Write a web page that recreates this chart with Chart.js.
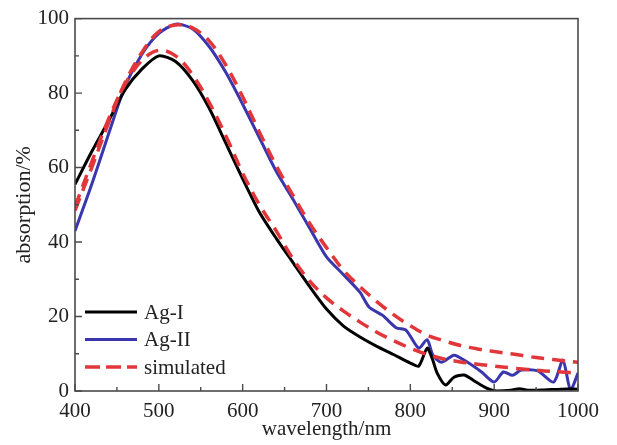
<!DOCTYPE html>
<html>
<head>
<meta charset="utf-8">
<script src="https://cdn.jsdelivr.net/npm/chart.js@4/dist/chart.umd.min.js"></script>
<style>
    html, body { margin: 0; padding: 0; background: #fff; }
    #wrap { width: 617px; height: 445px; }
</style>
</head>
<body>
<div id="wrap"><canvas id="myChart" width="617" height="445"></canvas></div>
<script>
// measured Ag-I
const agIWave = [400, 420, 440, 460, 480, 500, 520, 540, 560, 580, 600, 620, 640, 660, 680, 700, 720, 740, 760, 780, 800, 810, 820, 826, 832, 842, 852, 864, 875, 891, 903, 920, 930, 940, 960, 980, 1000];
const agIAbs = [55.5, 64.3, 72.5, 81, 86.5, 90, 88.5, 83.5, 76, 66.5, 57, 48, 41, 34.5, 28, 22, 17.5, 14.5, 12, 9.8, 7.5, 6.7, 11.5, 8.8, 4.8, 1.6, 3.7, 4.3, 2.9, 0.8, 0, 0.2, 0.6, 0.2, 0.3, 0.5, 0.5];

// measured Ag-II
const agIIWave = [400, 420, 440, 460, 480, 500, 520, 540, 560, 580, 600, 620, 640, 660, 680, 700, 720, 740, 751, 767, 783, 795, 810, 820, 827, 837, 852, 864, 885, 900, 911, 922, 932, 952, 971, 982, 991, 1000];
const agIIAbs = [43, 55.5, 69, 82, 90.5, 96, 98.5, 97.3, 92.5, 85.5, 77, 68, 59, 51.5, 43.7, 36, 31.3, 26.5, 22.5, 20.3, 17, 16.3, 11.5, 13.8, 9.6, 7.7, 9.6, 8.3, 5.1, 2.4, 5.1, 4.2, 5.6, 5.4, 2.4, 8.3, 0.3, 4.8];

// simulated curves
const simWave = [400, 420, 440, 460, 480, 500, 520, 540, 560, 580, 600, 620, 640, 660, 680, 700, 720, 740, 760, 780, 800, 820, 840, 860, 880, 900, 920, 940, 960, 980, 1000];
const simIAbs = [49.5, 61.5, 73, 82.5, 88.8, 91.5, 90, 85, 77.5, 68.5, 58.5, 50, 43, 35.5, 29.5, 25, 21.5, 18.5, 15.8, 13.5, 11.5, 9.8, 8.6, 7.8, 7.2, 6.7, 6.2, 5.8, 5.4, 5.1, 4.8];
const simIIAbs = [48.5, 60, 72, 83, 91, 96.5, 98.3, 97.5, 94, 87.5, 79, 69.5, 60.5, 52.5, 45, 38.5, 32.5, 28, 24, 20.5, 17.5, 15, 13.5, 12.2, 11.3, 10.6, 10, 9.3, 8.7, 8.2, 7.7];

const xTicks = [400, 500, 600, 700, 800, 900, 1000];
const yTicks = [0, 20, 40, 60, 80, 100];

const FONT = "'Liberation Serif', 'Times New Roman', serif";
const BLACK = '#000000';
const BLUE = '#3a36ae';
const RED = '#e2373a';

function toPoints(xs, ys) {
    return xs.map(function (x, i) { return { x: x, y: ys[i] }; });
}

const frameAndTicks = {
    id: 'frameAndTicks',
    afterDatasetsDraw(chart) {
        const ctx = chart.ctx;
        const area = chart.chartArea;
        const xs = chart.scales.x;
        const ys = chart.scales.y;
        ctx.save();
        ctx.strokeStyle = '#4a4a4a';
        ctx.lineWidth = 1.6;
        ctx.strokeRect(area.left, area.top, area.right - area.left, area.bottom - area.top);
        ctx.lineWidth = 1.4;
        ctx.beginPath();
        for (let v = 400; v <= 1000; v += 50) {
            const px = xs.getPixelForValue(v);
            const len = v % 100 === 0 ? 7 : 4;
            ctx.moveTo(px, area.bottom);
            ctx.lineTo(px, area.bottom - len);
        }
        for (let v = 0; v <= 100; v += 10) {
            const py = ys.getPixelForValue(v);
            const len = v % 20 === 0 ? 7 : 4;
            ctx.moveTo(area.left, py);
            ctx.lineTo(area.left + len, py);
        }
        ctx.stroke();
        ctx.restore();
    }
};

const insideLegend = {
    id: 'insideLegend',
    afterDraw(chart) {
        const ctx = chart.ctx;
        const entries = [
            { text: chart.data.datasets[2].label, color: BLACK, dash: [] },
            { text: chart.data.datasets[3].label, color: BLUE, dash: [] },
            { text: chart.data.datasets[0].label, color: RED, dash: [15, 6] }
        ];
        ctx.save();
        ctx.font = '21px ' + FONT;
        ctx.textBaseline = 'middle';
        entries.forEach(function (e, i) {
            const y = 312 + i * 27.5;
            ctx.strokeStyle = e.color;
            ctx.lineWidth = e.dash.length ? 3.5 : 3;
            ctx.setLineDash(e.dash);
            ctx.beginPath();
            ctx.moveTo(85, y);
            ctx.lineTo(137, y);
            ctx.stroke();
            ctx.setLineDash([]);
            ctx.fillStyle = '#222';
            ctx.fillText(e.text, 144, y + 1);
        });
        ctx.restore();
    }
};

const ctx = document.getElementById('myChart').getContext('2d');
const myChart = new Chart(ctx, {
    type: 'line',
    data: {
        datasets: [{
            label: 'simulated',
            data: toPoints(simWave, simIAbs),
            borderColor: RED,
            borderWidth: 3.5,
            borderDash: [13, 8],
            tension: 0.35,
            order: 0
        }, {
            label: 'simulated II',
            data: toPoints(simWave, simIIAbs),
            borderColor: RED,
            borderWidth: 3.5,
            borderDash: [13, 8],
            tension: 0.35,
            order: 0
        }, {
            label: 'Ag-I',
            data: toPoints(agIWave, agIAbs),
            borderColor: BLACK,
            borderWidth: 3,
            tension: 0.25,
            order: 1
        }, {
            label: 'Ag-II',
            data: toPoints(agIIWave, agIIAbs),
            borderColor: BLUE,
            borderWidth: 3,
            tension: 0.25,
            order: 1
        }]
    },
    options: {
        responsive: false,
        animation: false,
        events: [],
        layout: { padding: { top: 16, right: 39, left: 0, bottom: 0 } },
        elements: {
            point: { radius: 0 },
            line: { fill: false }
        },
        plugins: {
            legend: { display: false },
            tooltip: { enabled: false }
        },
        scales: {
            x: {
                type: 'linear',
                min: 400,
                max: 1000,
                afterBuildTicks: function (scale) {
                    scale.ticks = xTicks.map(function (v) { return { value: v }; });
                },
                afterFit: function (scale) { scale.height = 54; },
                grid: { display: false, tickLength: 0 },
                border: { display: false },
                ticks: {
                    color: '#222',
                    padding: 8,
                    maxRotation: 0,
                    font: { family: FONT, size: 21 },
                    callback: function (v) { return String(v); }
                },
                title: {
                    display: true,
                    text: 'wavelength/nm',
                    color: '#222',
                    padding: { top: 0, bottom: 3 },
                    font: { family: FONT, size: 21 }
                }
            },
            y: {
                min: 0,
                max: 100,
                afterBuildTicks: function (scale) {
                    scale.ticks = yTicks.map(function (v) { return { value: v }; });
                },
                afterFit: function (scale) { scale.width = 75; },
                grid: { display: false, tickLength: 0 },
                border: { display: false },
                ticks: {
                    color: '#222',
                    padding: 6,
                    font: { family: FONT, size: 21 },
                    callback: function (v) { return String(v); }
                },
                title: {
                    display: true,
                    text: 'absorption/%',
                    color: '#222',
                    padding: { top: 11, bottom: 0 },
                    font: { family: FONT, size: 22 }
                }
            }
        }
    },
    plugins: [frameAndTicks, insideLegend]
});
</script>
</body>
</html>
